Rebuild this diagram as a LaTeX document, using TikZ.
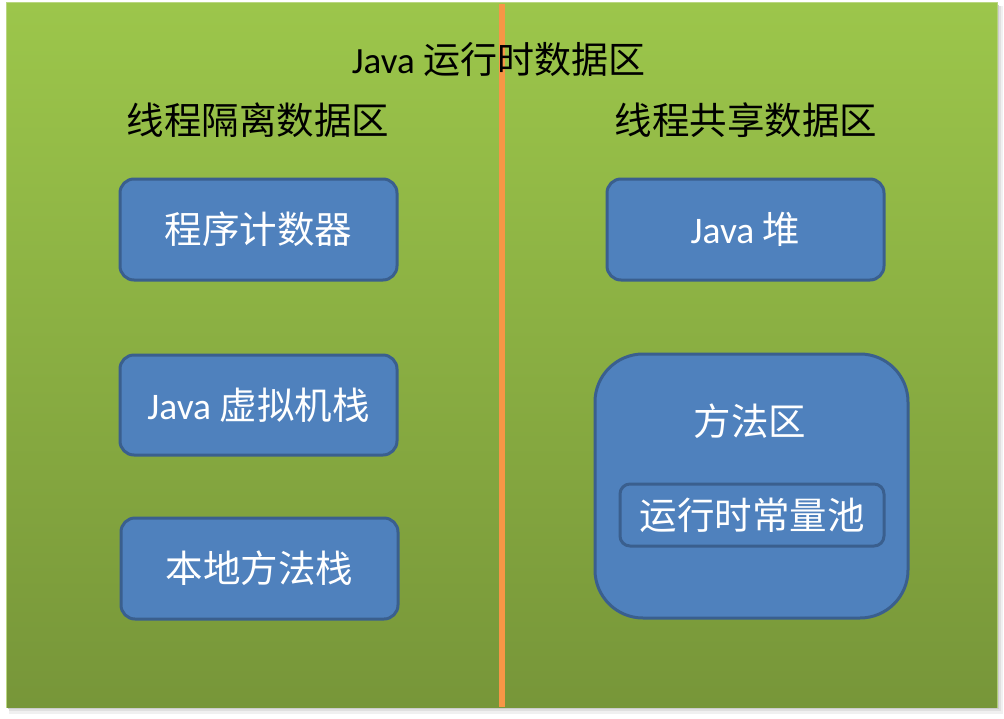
\documentclass[tikz,border=0pt]{standalone}
\usepackage{fontspec}
\setmainfont{Carlito}
\newfontfamily\cjk{Noto Sans CJK SC}
\definecolor{gtop}{HTML}{9CC64B}
\definecolor{gbot}{HTML}{779639}
\definecolor{bfill}{HTML}{4F81BD}
\definecolor{bline}{HTML}{3A5F8E}
\definecolor{orangel}{HTML}{F79646}
\begin{document}
\begin{tikzpicture}[x=1pt,y=-1pt,
  box/.style={draw=bline, line width=3pt, fill=bfill, rounded corners=14pt},
  boxtext/.style={text=white, font=\fontsize{37.5}{42}\selectfont, inner sep=0pt},
  head/.style={text=black, font=\fontsize{37.5}{42}\selectfont, inner sep=0pt}]
\useasboundingbox (0,0) rectangle (1004,718);
% shadow
\fill[black!6] (9,6) rectangle (1003,714);
\fill[black!12] (9,6) rectangle (1001,711);
\fill[black!20] (8,5) rectangle (999,709);
% background
\fill[gtop!70!white] (6,2) rectangle (998,708);
\shade[top color=gtop, bottom color=gbot] (7,3) rectangle (997,707);
% divider
\draw[orangel, line width=6pt] (502,4) -- (502,707);
% titles
\node[head, font=\fontsize{37}{42}\selectfont] (title) at (498.5,59) {Java {\cjk 运行时数据区}};
\node[head, font=\cjk\fontsize{37.5}{42}\selectfont] (left) at (258,120) {线程隔离数据区};
\node[head, font=\cjk\fontsize{37.5}{42}\selectfont] (right) at (746,120) {线程共享数据区};
% left boxes
\draw[box] (120,179) rectangle (397,280);
\node[boxtext] (pc) at (258.5,229.5) {\cjk 程序计数器};
\draw[box] (120,355) rectangle (397,455);
\node[boxtext] (jvms) at (258.5,405) {Java {\cjk 虚拟机栈}};
\draw[box] (121,518) rectangle (398,619);
\node[boxtext] (nms) at (259.5,568.5) {\cjk 本地方法栈};
% right boxes
\draw[box] (607,179) rectangle (884,280);
\node[boxtext] (heap) at (745.5,229.5) {Java {\cjk 堆}};
\draw[box, rounded corners=48pt] (595,354) rectangle (908,618);
\node[boxtext] (ma) at (750,421) {\cjk 方法区};
\draw[box, rounded corners=10pt] (620,484) rectangle (884,546);
\node[boxtext] (rcp) at (752,515) {\cjk 运行时常量池};
\end{tikzpicture}
\end{document}
